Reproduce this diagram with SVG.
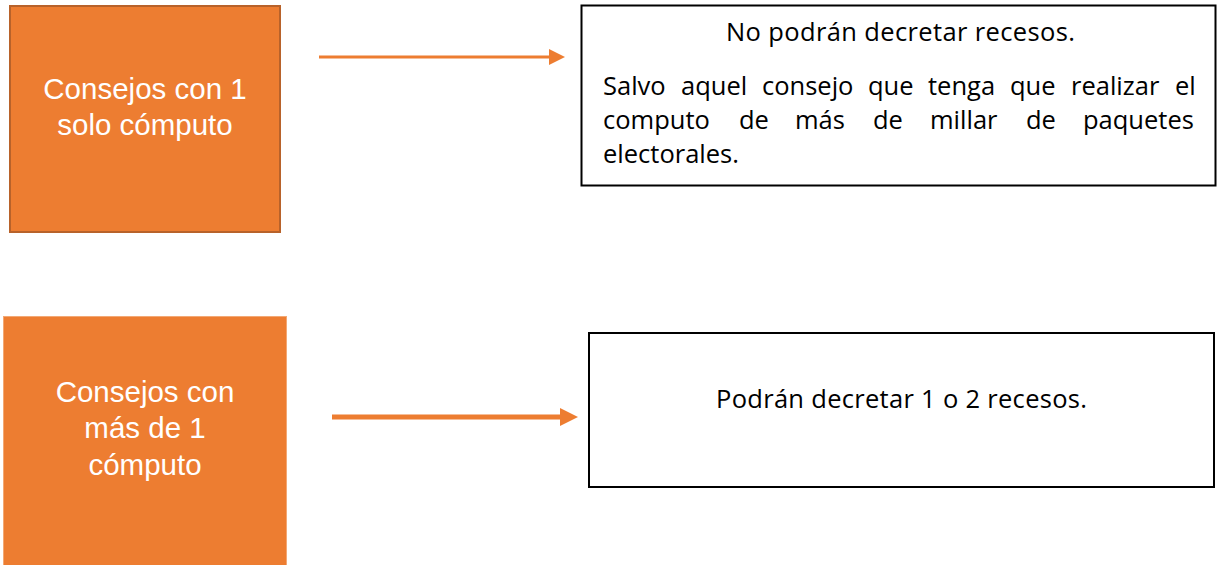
<svg xmlns="http://www.w3.org/2000/svg" width="1219" height="565" viewBox="0 0 1219 565">
<style>
.org{fill:#ED7D31}
.wt{fill:#FFFFFF;font-family:"Liberation Sans",Arial,sans-serif;font-size:29.5px;text-anchor:middle}
.bk{fill:#000000;font-family:"Open Sans","Liberation Sans",sans-serif;font-size:25.5px}
.box{fill:#FFFFFF;stroke:#000000;stroke-width:2}
.conn{stroke:#ED7D31;fill:none}
</style>
<rect width="1219" height="565" fill="#FFFFFF"/>
<g id="node-solo">
<rect x="10" y="6" width="270" height="226" class="org" stroke="#B8622A" stroke-width="2"/>
<text class="wt" x="145" y="99">Consejos con 1</text>
<text class="wt" x="145" y="135">solo cómputo</text>
</g>
<g id="node-mas">
<rect x="3.5" y="316.5" width="283" height="250" class="org" stroke="#F3A874" stroke-width="1"/>
<text class="wt" x="145" y="402">Consejos con</text>
<text class="wt" x="145" y="438">más de 1</text>
<text class="wt" x="145" y="475">cómputo</text>
</g>
<g id="node-no">
<rect x="581.5" y="5.5" width="634" height="180" class="box"/>
<text class="bk" x="726" y="41" textLength="349" lengthAdjust="spacing">No podrán decretar recesos.</text>
<text class="bk" y="95"><tspan x="603">Salvo</tspan><tspan x="681">aquel</tspan><tspan x="762">consejo</tspan><tspan x="868">que</tspan><tspan x="928">tenga</tspan><tspan x="1010">que</tspan><tspan x="1071">realizar</tspan><tspan x="1175">el</tspan></text>
<text class="bk" y="129"><tspan x="603">computo</tspan><tspan x="739">de</tspan><tspan x="795">más</tspan><tspan x="873">de</tspan><tspan x="930">millar</tspan><tspan x="1026">de</tspan><tspan x="1083">paquetes</tspan></text>
<text class="bk" x="603" y="163">electorales.</text>
</g>
<g id="node-si">
<rect x="589" y="333" width="625" height="154" class="box"/>
<text class="bk" x="716" y="408" textLength="371" lengthAdjust="spacing">Podrán decretar 1 o 2 recesos.</text>
</g>
<g id="connectors">
<line x1="319" y1="57" x2="551" y2="57" class="conn" stroke-width="3"/>
<polygon points="549,49 565,57 549,65" class="org"/>
<line x1="332" y1="417" x2="562" y2="417" class="conn" stroke-width="5"/>
<polygon points="560,408 578,417 560,426" class="org"/>
</g>
</svg>
